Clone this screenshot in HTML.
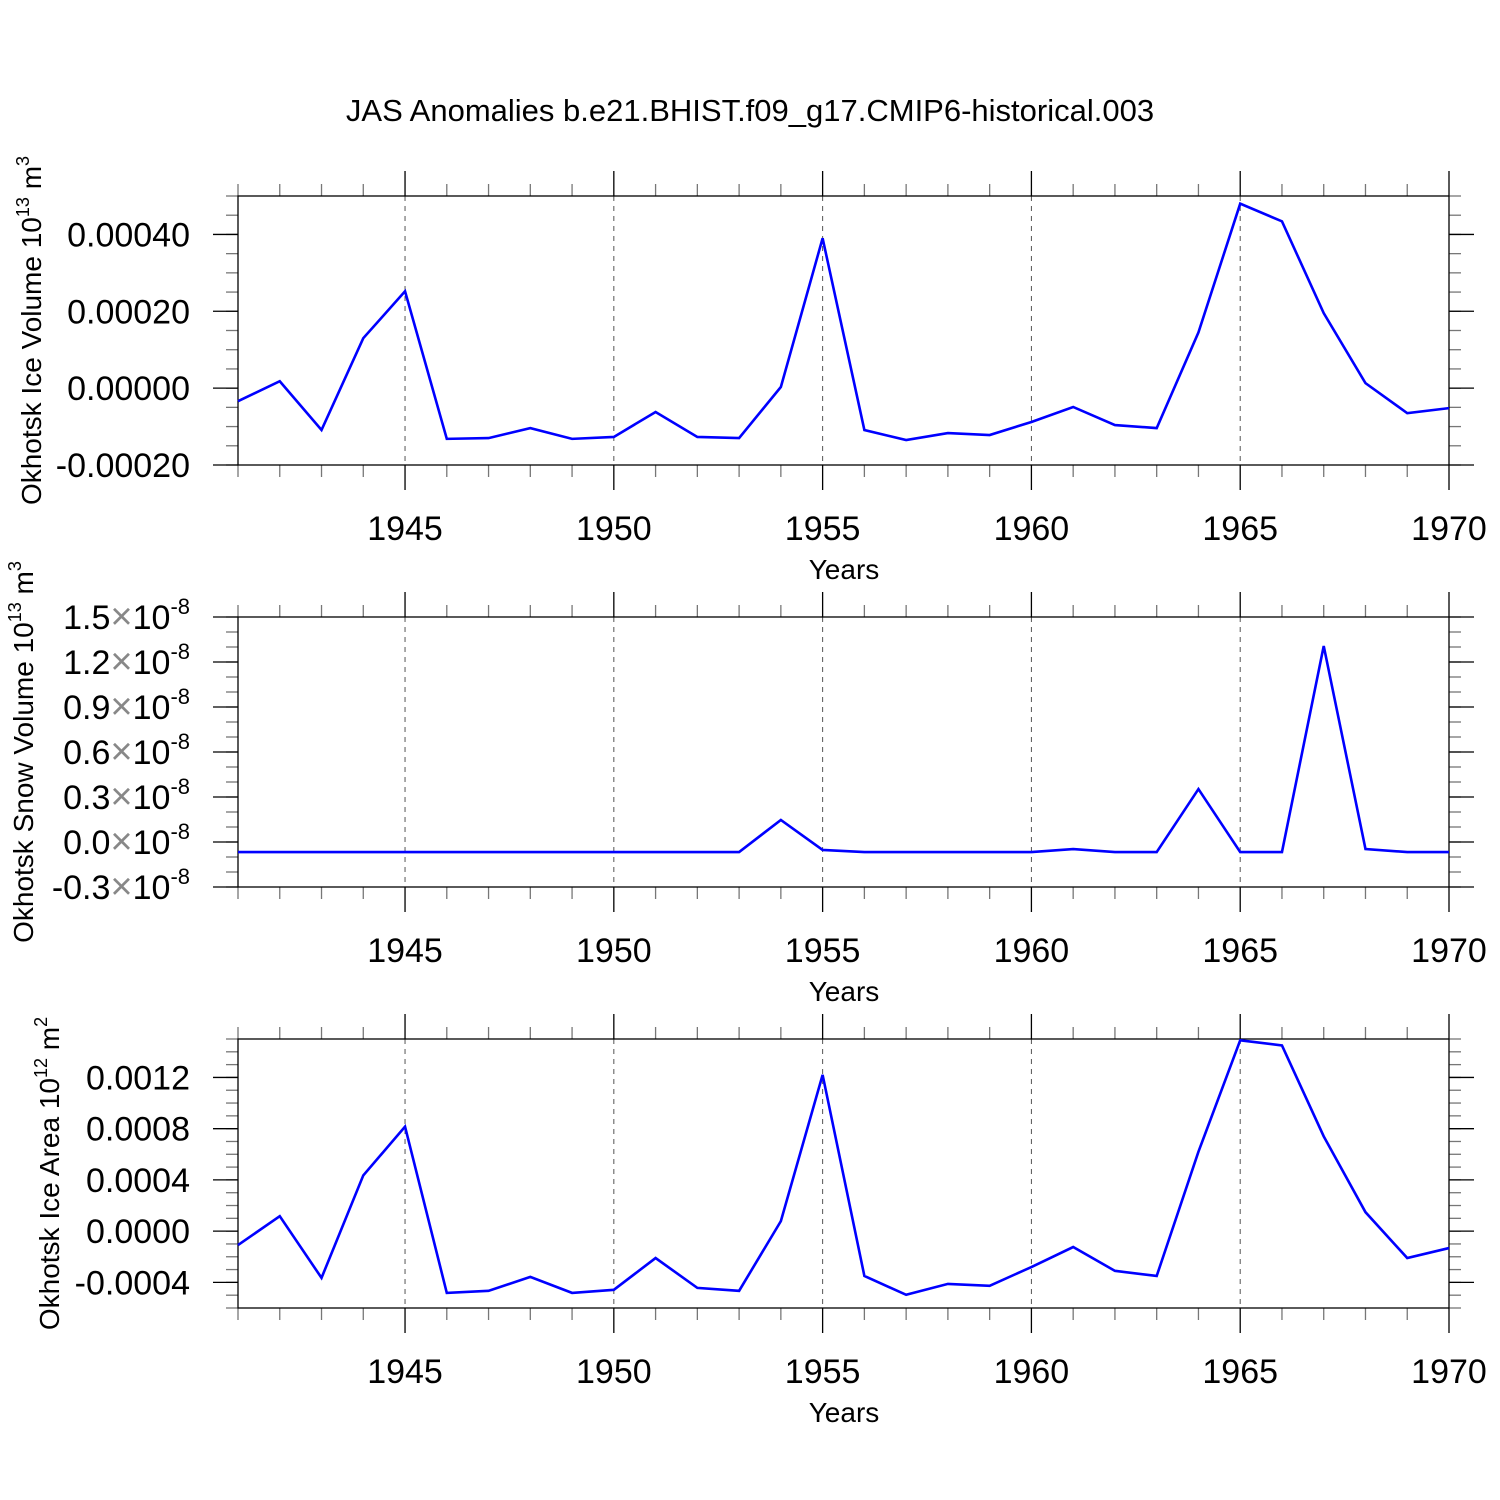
<!DOCTYPE html>
<html><head><meta charset="utf-8"><style>
html,body{margin:0;padding:0;background:#fff}
svg{display:block;font-family:"Liberation Sans",sans-serif}
</style></head><body>
<svg id="chart" width="1500" height="1500" viewBox="0 0 1500 1500" xmlns="http://www.w3.org/2000/svg">
<text x="750" y="121" font-size="31" text-anchor="middle">JAS Anomalies b.e21.BHIST.f09_g17.CMIP6-historical.003</text>
</svg>
<script>
const years = [1941,1942,1943,1944,1945,1946,1947,1948,1949,1950,1951,1952,1953,1954,1955,1956,1957,1958,1959,1960,1961,1962,1963,1964,1965,1966,1967,1968,1969,1970];
const iceVolume = [-0.000034,0.000018,-0.000109,0.00013,0.000252,-0.000132,-0.00013,-0.000104,-0.000132,-0.000127,-0.000062,-0.000127,-0.00013,0.000003,0.00039,-0.000109,-0.000135,-0.000117,-0.000122,-0.000088,-0.000049,-0.000096,-0.000104,0.000145,0.00048,0.000434,0.000195,0.000013,-0.000065,-0.000052];
const snowVolume = [-0.067,-0.067,-0.067,-0.067,-0.067,-0.067,-0.067,-0.067,-0.067,-0.067,-0.067,-0.067,-0.067,0.147,-0.053,-0.067,-0.067,-0.067,-0.067,-0.067,-0.047,-0.067,-0.067,0.353,-0.067,-0.067,1.307,-0.047,-0.067,-0.067];
const iceArea = [-0.000109,0.000117,-0.000365,0.000435,0.000816,-0.000482,-0.000466,-0.000357,-0.000482,-0.000458,-0.00021,-0.000443,-0.000466,0.000078,0.00122,-0.00035,-0.000497,-0.000412,-0.000427,-0.00028,-0.000124,-0.00031,-0.00035,0.00062,0.00149,0.00145,0.00074,0.000148,-0.00021,-0.000132];
const xTicks = [1945,1950,1955,1960,1965,1970];
const iceVolTicks = [-0.0002,0,0.0002,0.0004];
const iceVolLabels = ["-0.00020","0.00000","0.00020","0.00040"];
const snowTicks = [-0.3,0,0.3,0.6,0.9,1.2,1.5];
const snowLabels = ["-0.3","0.0","0.3","0.6","0.9","1.2","1.5"];
const areaTicks = [-0.0004,0,0.0004,0.0008,0.0012];
const areaLabels = ["-0.0004","0.0000","0.0004","0.0008","0.0012"];

const NS="http://www.w3.org/2000/svg";
const svg=document.getElementById('chart');
function mk(tag,attrs,parent){const e=document.createElementNS(NS,tag);for(const k in attrs)e.setAttribute(k,attrs[k]);(parent||svg).appendChild(e);return e;}
const X0=238,X1=1449,xmin=1941,xmax=1970;
function xs(v){return X0+(v-xmin)/(xmax-xmin)*(X1-X0);}

function panel(cfg){
  const g=mk('g',{});
  
  
  const T=cfg.top,B=cfg.bottom;
  const ys=v=>B-(v-cfg.ymin)/(cfg.ymax-cfg.ymin)*(B-T);
  xTicks.forEach(t=>{if(t<xmax){const l=mk('line',{x1:xs(t),x2:xs(t),y1:T,y2:B,stroke:'#555','stroke-width':1,'stroke-dasharray':'5,5'},g);
    }});
  for(let y=xmin;y<=xmax;y++){
    const maj=xTicks.includes(y);
    const len=maj?25:12;
    mk('line',{x1:xs(y),x2:xs(y),y1:T-len,y2:T,stroke:maj?'#000':'#777','stroke-width':1.3},g);
    mk('line',{x1:xs(y),x2:xs(y),y1:B,y2:B+len,stroke:maj?'#000':'#777','stroke-width':1.3},g);
  }
  for(let v=cfg.ymin;v<=cfg.ymax+cfg.minor*0.01;v+=cfg.minor){
    const y=ys(v);
    mk('line',{x1:X0-12,x2:X0,y1:y,y2:y,stroke:'#777','stroke-width':1.3},g);
    mk('line',{x1:X1,x2:X1+12,y1:y,y2:y,stroke:'#777','stroke-width':1.3},g);
  }
  cfg.ticks.forEach((v,i)=>{
    const y=ys(v);
    mk('line',{x1:X0-25,x2:X0,y1:y,y2:y,stroke:'#000','stroke-width':1.3},g);
    mk('line',{x1:X1,x2:X1+25,y1:y,y2:y,stroke:'#000','stroke-width':1.3},g);
    const t=mk('text',{x:X0-48,y:y+12,'font-size':34,'text-anchor':'end'},g);
    
    
    if(cfg.sci){
      const s0=mk('tspan',{},t);s0.textContent=cfg.labels[i];
      const ts=mk('tspan',{fill:'#888','font-size':38},t);ts.textContent='×';
      const ts2=mk('tspan',{},t);ts2.textContent='10';
      const ts3=mk('tspan',{dy:-15,'font-size':22},t);ts3.textContent='-8';
    } else t.textContent=cfg.labels[i];
  });
  mk('rect',{x:X0,y:T,width:X1-X0,height:B-T,fill:'none',stroke:'#000','stroke-width':1.3},g);
  xTicks.forEach(t=>{const tx=mk('text',{x:xs(t),y:B+75,'font-size':34,'text-anchor':'middle'},g);
    tx.textContent=t;});
  const xt=mk('text',{x:844,y:B+114,'font-size':28,'text-anchor':'middle'},g);
  xt.textContent='Years';
  const yt=mk('text',{x:0,y:0,'font-size':28,'text-anchor':'middle',transform:`translate(${cfg.ytx},${(T+B)/2}) rotate(-90)`},g);
  
  const a=mk('tspan',{},yt);a.textContent=cfg.ytitle+' 10';
  const b=mk('tspan',{dy:-12,'font-size':18},yt);b.textContent=cfg.exp;
  const c=mk('tspan',{dy:12},yt);c.textContent=' m';
  const d=mk('tspan',{dy:-12,'font-size':18},yt);d.textContent=cfg.unitExp;
  const pts=cfg.data.map((v,i)=>xs(years[i])+','+ys(v)).join(' ');
  const pl=mk('polyline',{points:pts,fill:'none',stroke:'#0000ff','stroke-width':2.6,'stroke-linejoin':'miter'},g);
  
  
}
panel({name:'ice-volume-panel',top:196,bottom:465,ymin:-0.0002,ymax:0.0005,minor:0.00005,ticks:iceVolTicks,labels:iceVolLabels,data:iceVolume,ytitle:'Okhotsk Ice Volume',exp:'13',unitExp:'3',ytx:41});
panel({name:'snow-volume-panel',top:617,bottom:887,ymin:-0.3,ymax:1.5,minor:0.1,ticks:snowTicks,labels:snowLabels,data:snowVolume,ytitle:'Okhotsk Snow Volume',exp:'13',unitExp:'3',ytx:33,sci:true});
panel({name:'ice-area-panel',top:1039,bottom:1308,ymin:-0.0006,ymax:0.0015,minor:0.0001,ticks:areaTicks,labels:areaLabels,data:iceArea,ytitle:'Okhotsk Ice Area',exp:'12',unitExp:'2',ytx:59});
</script>
</body></html>
